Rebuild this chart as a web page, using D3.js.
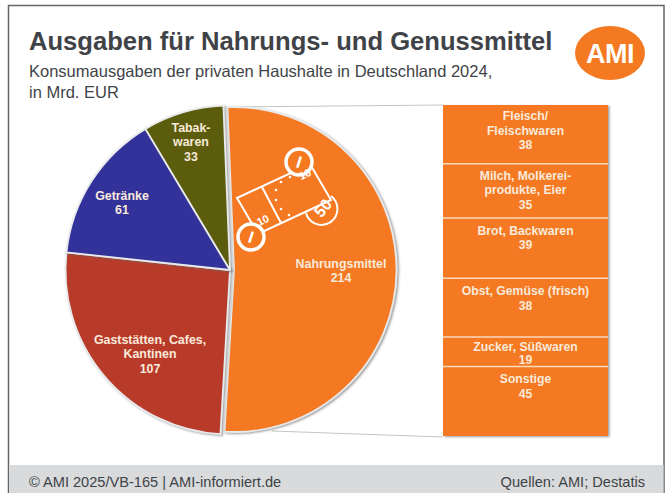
<!DOCTYPE html>
<html><head><meta charset="utf-8">
<script src="https://cdn.jsdelivr.net/npm/d3@7"></script>
<style>
html,body{margin:0;padding:0;background:#fff}
svg{display:block}
text{font-family:"Liberation Sans",Arial,sans-serif}
</style></head><body>
<svg id="c" width="667" height="493"></svg>
<script>
const sliceNames=[["Nahrungsmittel"],["Gaststätten, Cafes,","Kantinen"],["Getränke"],["Tabak-","waren"]];
const sliceValues=[214,107,61,33];
const sliceColors=["#f47920","#b83a2b","#31309a","#5b5b10"];
const detailNames=[["Fleisch/","Fleischwaren"],["Milch, Molkerei-","produkte, Eier"],["Brot, Backwaren"],["Obst, Gemüse (frisch)"],["Zucker, Süßwaren"],["Sonstige"]];
const detailValues=[38,35,39,38,19,45];

const svg=d3.select("#c");
const defs=svg.append("defs");
const f=defs.append("filter").attr("id","sh").attr("x","-10%").attr("y","-10%").attr("width","120%").attr("height","120%");
f.append("feDropShadow").attr("dx",1.5).attr("dy",1).attr("stdDeviation",1).attr("flood-color","#666").attr("flood-opacity",.65);
const ink="#3f4347", labelInk="#f9eadb";

svg.append("rect").attr("x",8.5).attr("y",5.5).attr("width",655.5).attr("height",495).attr("fill","#fff").attr("stroke","#666").attr("stroke-width",1.5);
svg.append("rect").attr("x",9.5).attr("y",465).attr("width",654).attr("height",28).attr("fill","#d8dadb");

svg.append("text").attr("x",29).attr("y",50).attr("font-size",25.6).attr("font-weight",700).attr("fill",ink).text("Ausgaben für Nahrungs- und Genussmittel");
svg.append("text").attr("x",29).attr("y",77).attr("font-size",16.5).attr("fill",ink).text("Konsumausgaben der privaten Haushalte in Deutschland 2024,");
svg.append("text").attr("x",29).attr("y",98).attr("font-size",16.5).attr("fill",ink).text("in Mrd. EUR");

svg.append("ellipse").attr("cx",610).attr("cy",53).attr("rx",35).attr("ry",27).attr("fill","#f47920");
svg.append("text").attr("x",610).attr("y",63).attr("text-anchor","middle").attr("font-size",27).attr("font-weight",700).attr("fill","#fff").attr("letter-spacing",-.5).text("AMI");

svg.append("text").attr("x",29).attr("y",487).attr("font-size",14.6).attr("fill",ink).text("© AMI 2025/VB-165 | AMI-informiert.de");
svg.append("text").attr("x",645).attr("y",487).attr("text-anchor","end").attr("font-size",14.6).attr("fill",ink).text("Quellen: AMI; Destatis");

const barX=443,barW=165,barTop=105,barBottom=436;
svg.append("path").attr("d",`M230,107L${barX},${barTop}M272,431L${barX},${barBottom+1}`).attr("stroke","#c4c4c4").attr("stroke-width",1.2).attr("fill","none");

// pie
const cx=230,cy=270,r=164.5,rMain=162.5;
const startDeg=-2.3;
const pie=d3.pie().sort(null).value(d=>d).startAngle(startDeg*Math.PI/180).endAngle((startDeg+360)*Math.PI/180)(sliceValues);
const arc=d3.arc().innerRadius(0);
const g=svg.append("g").attr("transform",`translate(${cx},${cy})`);
g.selectAll("path").data(pie).join("path")
 .attr("d",(d,i)=>arc.outerRadius(i==0?rMain:r)(d))
 .attr("fill",(d,i)=>sliceColors[i])
 .attr("stroke","#e8eaec").attr("stroke-width",1.8).attr("stroke-linejoin","round")
 .attr("filter","url(#sh)")
 .attr("transform",(d,i)=>i==0?"translate(4,-0.5)":null);

const labelPos=[[341,268],[150,344],[122,200],[191,132]];
sliceNames.forEach((lines,i)=>{
  [...lines,String(sliceValues[i])].forEach((s,j)=>svg.append("text").attr("x",labelPos[i][0]).attr("y",labelPos[i][1]+j*14.4).attr("text-anchor","middle").attr("font-size",12.4).attr("font-weight",700).attr("fill",labelInk).text(s));
});

// icon
const ic=svg.append("g").attr("fill","none").attr("stroke","#fff").attr("stroke-width",2);
ic.append("path").attr("d","M237,198L310,164L331,200L258,234Z M262,187L281,223");
ic.append("path").attr("d","M306,213A16,16 0 1 0 331,196");
[[281,182],[290,177],[276,190],[276,200],[281,209],[289,215]].forEach(p=>ic.append("circle").attr("cx",p[0]).attr("cy",p[1]).attr("r",1.3).attr("fill","#fff").attr("stroke","none"));
ic.append("circle").attr("cx",299).attr("cy",162).attr("r",13).attr("fill","#f47920").attr("stroke-width",3.5);
ic.append("circle").attr("cx",251).attr("cy",237).attr("r",13).attr("fill","#f47920").attr("stroke-width",3.5);
[["I",299,168,17,18,700],["I",251,243,17,18,700],["50",323,213.6,16,-50,700],["10",305,178,11,-25,700],["10",263,224,11,-25,700]]
 .forEach(d=>svg.append("text").attr("x",d[1]).attr("y",d[2]).attr("text-anchor","middle").attr("font-size",d[3]).attr("font-weight",d[5]).attr("fill","#fff").attr("transform",`rotate(${d[4]} ${d[1]} ${d[2]-d[3]*.35})`).text(d[0]));

// stacked details
const y=d3.scaleLinear().domain([0,d3.sum(detailValues)]).range([barTop,barBottom]);
const tops=[0,...d3.cumsum(detailValues)];
const firstBaseline=[15,16,17,17,14,17], lineStep=[14.5,14.5,14.5,14.5,12.5,14.5];
const bars=svg.append("g");
bars.append("rect").attr("x",barX).attr("y",barTop).attr("width",barW).attr("height",barBottom-barTop).attr("fill","#f47920").attr("filter","url(#sh)");
detailValues.forEach((v,i)=>{
  if(i>0) bars.append("line").attr("x1",barX).attr("x2",barX+barW).attr("y1",y(tops[i])).attr("y2",y(tops[i])).attr("stroke","#fbd9bd").attr("stroke-width",1.5);
  [...detailNames[i],String(v)].forEach((s,j)=>bars.append("text").attr("x",barX+barW/2).attr("y",y(tops[i])+firstBaseline[i]+j*lineStep[i]).attr("text-anchor","middle").attr("font-size",12.2).attr("font-weight",700).attr("fill",labelInk).text(s));
});
</script></body></html>
